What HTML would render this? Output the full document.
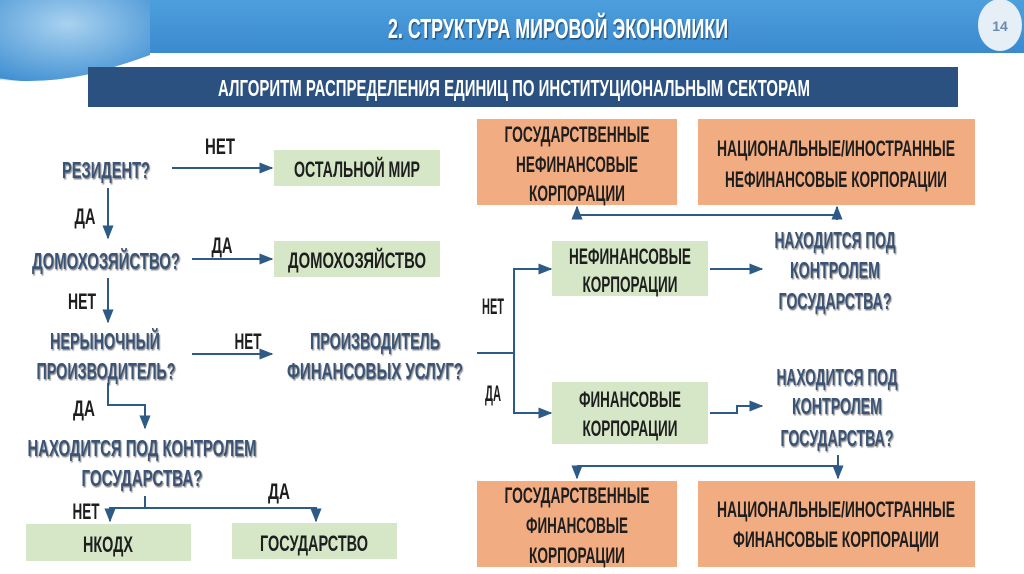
<!DOCTYPE html>
<html><head><meta charset="utf-8"><style>
html,body{margin:0;padding:0;background:#fff;}
svg{display:block}
text{font-family:"Liberation Sans Narrow","Liberation Sans",sans-serif;font-weight:bold;}
</style></head><body>
<svg width="1024" height="574" viewBox="0 0 1024 574" xmlns="http://www.w3.org/2000/svg">
<defs>
<linearGradient id="hb" x1="0" y1="0" x2="0" y2="1"><stop offset="0" stop-color="#4d9fdc"/><stop offset="1" stop-color="#3a8ad0"/></linearGradient>
<radialGradient id="gl" cx="0.45" cy="0.3" r="0.8"><stop offset="0" stop-color="#a9d2f0"/><stop offset="1" stop-color="#3f8fd2"/></radialGradient>
<marker id="ar" viewBox="0 0 10 10" refX="9" refY="5" markerWidth="7" markerHeight="7" orient="auto"><path d="M0,1 L10,5 L0,9 z" fill="#2e5a86"/></marker>
<filter id="sh"><feDropShadow dx="1" dy="1.5" stdDeviation="0.6" flood-color="#000" flood-opacity="0.45"/></filter>
</defs>
<rect x="0" y="0" width="1024" height="53" fill="url(#hb)"/>
<path d="M0,0 H150 V55 Q120,66 90,74 Q45,84 0,80 Z" fill="url(#gl)"/>
<path d="M0,80 Q50,88 95,76" stroke="#fff" stroke-width="3" fill="none" opacity="0.8"/>
<ellipse cx="1000" cy="25" rx="22" ry="26" fill="#e6eef6"/>
<text x="1000" y="31" font-size="14" fill="#6a8bb0" text-anchor="middle" font-family="Liberation Serif">14</text>
<text x="558" y="38" font-size="28" fill="#fff" text-anchor="middle" textLength="340" lengthAdjust="spacingAndGlyphs" filter="url(#sh)">2. СТРУКТУРА МИРОВОЙ ЭКОНОМИКИ</text>
<rect x="88" y="67" width="870" height="40" fill="#2b5180"/>
<text x="514" y="96" font-size="23" fill="#fff" text-anchor="middle" textLength="592" lengthAdjust="spacingAndGlyphs">АЛГОРИТМ РАСПРЕДЕЛЕНИЯ ЕДИНИЦ ПО ИНСТИТУЦИОНАЛЬНЫМ СЕКТОРАМ</text>

<g fill="none" stroke="#2e5a86" stroke-width="2">
<line x1="172" y1="168" x2="272" y2="168" marker-end="url(#ar)"/>
<line x1="108" y1="188" x2="108" y2="238" marker-end="url(#ar)"/>
<line x1="192" y1="259" x2="272" y2="259" marker-end="url(#ar)"/>
<line x1="108" y1="278" x2="108" y2="322" marker-end="url(#ar)"/>
<line x1="192" y1="354" x2="272" y2="354" marker-end="url(#ar)"/>
<polyline points="108,383 108,405 145,405 145,428" marker-end="url(#ar)"/>
<line x1="145" y1="496" x2="145" y2="508"/>
<polyline points="110,520 110,508 316,508 316,520"/>
<line x1="110" y1="512" x2="110" y2="521" marker-end="url(#ar)"/>
<line x1="316" y1="512" x2="316" y2="521" marker-end="url(#ar)"/>
<line x1="477" y1="353" x2="514" y2="353"/>
<polyline points="551,269 514,269 514,413 551,413"/>
<line x1="540" y1="269" x2="551" y2="269" marker-end="url(#ar)"/>
<line x1="540" y1="413" x2="551" y2="413" marker-end="url(#ar)"/>
<line x1="710" y1="269" x2="762" y2="269" marker-end="url(#ar)"/>
<polyline points="710,413 737,413 737,406 762,406" marker-end="url(#ar)"/>
<line x1="837" y1="220" x2="837" y2="207" marker-end="url(#ar)"/>
<line x1="577" y1="215" x2="837" y2="215"/>
<line x1="577" y1="215" x2="577" y2="207" marker-end="url(#ar)"/>
<line x1="838" y1="455" x2="838" y2="478" marker-end="url(#ar)"/>
<line x1="577" y1="466" x2="838" y2="466"/>
<line x1="577" y1="466" x2="577" y2="478" marker-end="url(#ar)"/>
</g>

<g fill="#d5e7c6">
<rect x="274" y="150" width="166" height="36"/>
<rect x="274" y="241" width="166" height="36"/>
<rect x="26" y="524" width="165" height="37"/>
<rect x="232" y="523" width="165" height="36"/>
<rect x="552" y="241" width="156" height="55"/>
<rect x="552" y="382" width="156" height="62"/>
</g>
<g fill="#f2ac82">
<rect x="477" y="119" width="200" height="86"/>
<rect x="698" y="119" width="277" height="86"/>
<rect x="477" y="481" width="200" height="86"/>
<rect x="698" y="481" width="277" height="86"/>
</g>

<g font-size="23" fill="#3b5374" text-anchor="middle" filter="url(#sh)">
<text x="106" y="178" textLength="88" lengthAdjust="spacingAndGlyphs">РЕЗИДЕНТ?</text>
<text x="106" y="269" textLength="148" lengthAdjust="spacingAndGlyphs">ДОМОХОЗЯЙСТВО?</text>
<text x="105" y="349" textLength="110" lengthAdjust="spacingAndGlyphs">НЕРЫНОЧНЫЙ</text>
<text x="106" y="379" textLength="139" lengthAdjust="spacingAndGlyphs">ПРОИЗВОДИТЕЛЬ?</text>
<text x="375" y="349" textLength="130" lengthAdjust="spacingAndGlyphs">ПРОИЗВОДИТЕЛЬ</text>
<text x="375" y="379" textLength="176" lengthAdjust="spacingAndGlyphs">ФИНАНСОВЫХ УСЛУГ?</text>
<text x="142" y="456" textLength="229" lengthAdjust="spacingAndGlyphs">НАХОДИТСЯ ПОД КОНТРОЛЕМ</text>
<text x="142" y="486" textLength="121" lengthAdjust="spacingAndGlyphs">ГОСУДАРСТВА?</text>
<text x="835" y="248" textLength="121" lengthAdjust="spacingAndGlyphs">НАХОДИТСЯ ПОД</text>
<text x="835" y="278" textLength="90" lengthAdjust="spacingAndGlyphs">КОНТРОЛЕМ</text>
<text x="835" y="309" textLength="113" lengthAdjust="spacingAndGlyphs">ГОСУДАРСТВА?</text>
<text x="837" y="385" textLength="121" lengthAdjust="spacingAndGlyphs">НАХОДИТСЯ ПОД</text>
<text x="837" y="414" textLength="90" lengthAdjust="spacingAndGlyphs">КОНТРОЛЕМ</text>
<text x="837" y="446" textLength="113" lengthAdjust="spacingAndGlyphs">ГОСУДАРСТВА?</text>
</g>

<g font-size="22" fill="#1e1e1e" text-anchor="middle">
<text x="220" y="154" textLength="30" lengthAdjust="spacingAndGlyphs">НЕТ</text>
<text x="85" y="224" textLength="21" lengthAdjust="spacingAndGlyphs">ДА</text>
<text x="222" y="253" textLength="21" lengthAdjust="spacingAndGlyphs">ДА</text>
<text x="82" y="309" textLength="28" lengthAdjust="spacingAndGlyphs">НЕТ</text>
<text x="248" y="349" textLength="27" lengthAdjust="spacingAndGlyphs">НЕТ</text>
<text x="84" y="416" textLength="22" lengthAdjust="spacingAndGlyphs">ДА</text>
<text x="86" y="519" textLength="27" lengthAdjust="spacingAndGlyphs">НЕТ</text>
<text x="279" y="499" textLength="22" lengthAdjust="spacingAndGlyphs">ДА</text>
<text x="493" y="314" textLength="22" lengthAdjust="spacingAndGlyphs">НЕТ</text>
<text x="493" y="401" textLength="16" lengthAdjust="spacingAndGlyphs">ДА</text>
</g>

<g font-size="22" fill="#1e1e1e" text-anchor="middle">
<text x="357" y="177" textLength="126" lengthAdjust="spacingAndGlyphs">ОСТАЛЬНОЙ МИР</text>
<text x="357" y="268" textLength="138" lengthAdjust="spacingAndGlyphs">ДОМОХОЗЯЙСТВО</text>
<text x="108" y="552" textLength="50" lengthAdjust="spacingAndGlyphs">НКОДХ</text>
<text x="314" y="551" textLength="108" lengthAdjust="spacingAndGlyphs">ГОСУДАРСТВО</text>
<text x="630" y="264" textLength="122" lengthAdjust="spacingAndGlyphs">НЕФИНАНСОВЫЕ</text>
<text x="630" y="292" textLength="95" lengthAdjust="spacingAndGlyphs">КОРПОРАЦИИ</text>
<text x="630" y="407" textLength="102" lengthAdjust="spacingAndGlyphs">ФИНАНСОВЫЕ</text>
<text x="630" y="436" textLength="95" lengthAdjust="spacingAndGlyphs">КОРПОРАЦИИ</text>
<text x="577" y="142" textLength="145" lengthAdjust="spacingAndGlyphs">ГОСУДАРСТВЕННЫЕ</text>
<text x="577" y="172" textLength="122" lengthAdjust="spacingAndGlyphs">НЕФИНАНСОВЫЕ</text>
<text x="577" y="201" textLength="96" lengthAdjust="spacingAndGlyphs">КОРПОРАЦИИ</text>
<text x="836" y="156" textLength="238" lengthAdjust="spacingAndGlyphs">НАЦИОНАЛЬНЫЕ/ИНОСТРАННЫЕ</text>
<text x="836" y="187" textLength="222" lengthAdjust="spacingAndGlyphs">НЕФИНАНСОВЫЕ КОРПОРАЦИИ</text>
<text x="577" y="503" textLength="145" lengthAdjust="spacingAndGlyphs">ГОСУДАРСТВЕННЫЕ</text>
<text x="577" y="533" textLength="102" lengthAdjust="spacingAndGlyphs">ФИНАНСОВЫЕ</text>
<text x="577" y="563" textLength="96" lengthAdjust="spacingAndGlyphs">КОРПОРАЦИИ</text>
<text x="836" y="517" textLength="238" lengthAdjust="spacingAndGlyphs">НАЦИОНАЛЬНЫЕ/ИНОСТРАННЫЕ</text>
<text x="836" y="547" textLength="206" lengthAdjust="spacingAndGlyphs">ФИНАНСОВЫЕ КОРПОРАЦИИ</text>
</g>
</svg>
</body></html>
